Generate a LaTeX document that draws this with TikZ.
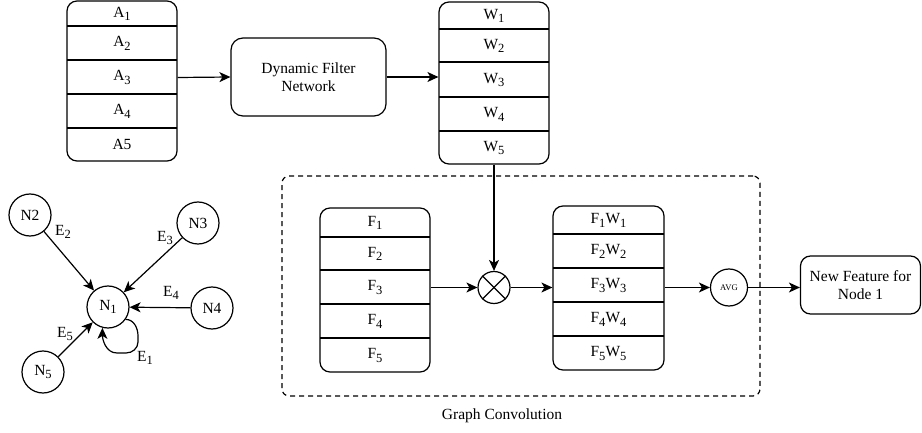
\documentclass[tikz,border=0pt]{standalone}
\usepackage{fontspec}
\setmainfont{Liberation Serif}
\usetikzlibrary{arrows.meta,calc}
\newcommand\mainfs{\fontsize{15.5}{18}\selectfont}
\newcommand\sbs[1]{\raisebox{-0.24em}{\fontsize{12.5}{14}\selectfont #1}}
\begin{document}
\begin{tikzpicture}[x=1pt,y=-1pt,line width=1.2pt,
  box/.style={draw,rounded corners=10pt,inner sep=0pt},
  rowtxt/.style={inner sep=0pt,font=\mainfs},
  arr/.style={-{Stealth[length=11pt,width=10pt,inset=3pt]}},
  gnode/.style={draw,circle,minimum size=42pt,inner sep=0pt,font=\mainfs},
  elab/.style={inner sep=0pt,font=\mainfs},
  sep/.style={line width=1.2pt}
]
\useasboundingbox (0,0) rectangle (922,433);

% A stack
\node[box,minimum width=110pt,minimum height=160pt] (astack) at (122,81) {};
\foreach \yy in {26,60,94,128} \draw[sep] (67,\yy) -- (177,\yy);
\node[rowtxt] (a1) at (122,14) {A\sbs{1}};
\node[rowtxt] (a2) at (122,43.5) {A\sbs{2}};
\node[rowtxt,minimum width=110pt,minimum height=30pt] (a3) at (122,77.5) {A\sbs{3}};
\node[rowtxt] (a4) at (122,111.5) {A\sbs{4}};
\node[rowtxt] (a5) at (122,144.5) {A5};

% Dynamic filter network
\node[box,rounded corners=12pt,minimum width=155pt,minimum height=78pt,align=center,font=\mainfs] (dfn) at (308.5,77) {Dynamic Filter\\Network};

% W stack
\node[box,minimum width=110pt,minimum height=162pt] (wstack) at (494,83) {};
\foreach \yy in {29,62,97,131} \draw[sep] (439,\yy) -- (549,\yy);
\node[rowtxt] (w1) at (494,16) {W\sbs{1}};
\node[rowtxt] (w2) at (494,46) {W\sbs{2}};
\node[rowtxt] (w3) at (494,80) {W\sbs{3}};
\node[rowtxt] (w4) at (494,114.5) {W\sbs{4}};
\node[rowtxt] (w5) at (494,148) {W\sbs{5}};

\draw[arr] (a3.east) -- (dfn.west);
\draw[arr] (dfn.east) -- (dfn.east -| wstack.west);

% dashed graph convolution box
\node[draw,dashed,dash pattern=on 5pt off 4pt,rounded corners=7pt,minimum width=478pt,minimum height=220pt,inner sep=0pt] (gc) at (521,286) {};
\node[font=\mainfs,inner sep=0pt] (gclab) at (502,416) {Graph Convolution};

% F stack
\node[box,minimum width=110pt,minimum height=164pt] (fstack) at (375,290) {};
\foreach \yy in {237,270,304,338} \draw[sep] (320,\yy) -- (430,\yy);
\node[rowtxt] (f1) at (375,223) {F\sbs{1}};
\node[rowtxt] (f2) at (375,254) {F\sbs{2}};
\node[rowtxt,minimum width=110pt,minimum height=30pt] (f3) at (375,287.5) {F\sbs{3}};
\node[rowtxt] (f4) at (375,321.5) {F\sbs{4}};
\node[rowtxt] (f5) at (375,355.5) {F\sbs{5}};

% otimes
\node[draw,circle,minimum size=32pt,inner sep=0pt] (ot) at (494,287.5) {};
\draw (ot.north west) -- (ot.south east);
\draw (ot.north east) -- (ot.south west);

% FW stack
\node[box,minimum width=111pt,minimum height=164pt] (fw) at (608.5,288) {};
\foreach \yy in {234,268,302,336} \draw[sep] (553,\yy) -- (664,\yy);
\node[rowtxt] (fw1) at (608.5,220.5) {F\sbs{1}W\sbs{1}};
\node[rowtxt] (fw2) at (608.5,251.5) {F\sbs{2}W\sbs{2}};
\node[rowtxt] (fw3) at (608.5,285.5) {F\sbs{3}W\sbs{3}};
\node[rowtxt] (fw4) at (608.5,319.5) {F\sbs{4}W\sbs{4}};
\node[rowtxt] (fw5) at (608.5,353.5) {F\sbs{5}W\sbs{5}};

% AVG
\node[draw,circle,minimum size=37pt,inner sep=0pt,font=\fontsize{8.6}{10}\selectfont] (avg) at (729,287.5) {AVG};

% New feature
\node[box,minimum width=120pt,minimum height=58pt,align=center,font=\mainfs] (newf) at (860.5,285) {New Feature for\\Node 1};

\draw[arr] (wstack.south) -- (ot.north);
\draw[arr] (f3.east) -- (ot.west);
\draw[arr] (ot.east) -- (ot.east -| fw.west);
\draw[arr] (ot.east -| fw.east) -- (avg.west);
\draw[arr] (avg.east) -- (avg.east -| newf.west);

% graph
\node[gnode] (n1) at (108,307) {N\sbs{1}};
\node[gnode] (n2) at (30,215) {N2};
\node[gnode] (n3) at (198,223) {N3};
\node[gnode] (n4) at (212,308) {N4};
\node[gnode] (n5) at (43,372) {N\sbs{5}};

\draw[arr] (n2) -- (n1);
\draw[arr] (n3) -- (n1);
\draw[arr] (n4) -- (n1);
\draw[arr] (n5) -- (n1);
\draw[arr] (n1.-35) to[out=0,in=90] (138,336) -- (138,342) to[out=-90,in=0] (126,353) -- (117,353) to[out=180,in=-90] (n1.-105);

\node[elab] (e2) at (63,232) {E\sbs{2}};
\node[elab] (e3) at (165,238) {E\sbs{3}};
\node[elab] (e4) at (171,293) {E\sbs{4}};
\node[elab] (e5) at (65,334) {E\sbs{5}};
\node[elab] (e1) at (145,358) {E\sbs{1}};
\end{tikzpicture}
\end{document}
